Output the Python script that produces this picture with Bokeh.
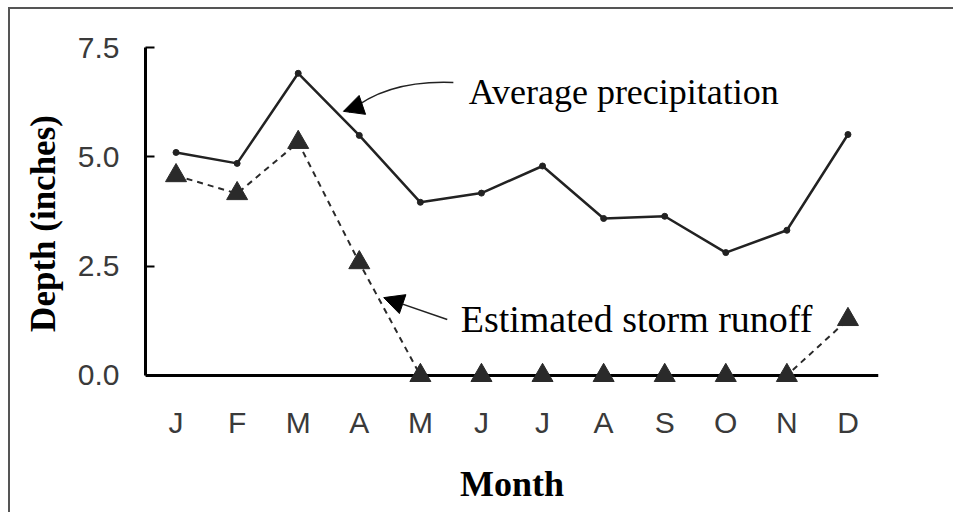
import numpy as np
from bokeh.plotting import figure
from bokeh.models import (Range1d, FixedTicker, Arrow, NormalHead, Span,
                          Label, NumeralTickFormatter, ColumnDataSource)
from bokeh.embed import file_html
from bokeh.resources import INLINE

# ---- data ----
months = ["Jan", "Feb", "Mar", "Apr", "May", "Jun",
          "Jul", "Aug", "Sep", "Oct", "Nov", "Dec"]
month_labels = ["J", "F", "M", "A", "M", "J", "J", "A", "S", "O", "N", "D"]
precip = [5.10, 4.85, 6.91, 5.49, 3.96, 4.17, 4.79, 3.59, 3.64, 2.81, 3.32, 5.51]
runoff = [4.57, 4.16, 5.33, 2.58, 0.0, 0.0, 0.0, 0.0, 0.0, 0.0, 0.0, 1.28]
y_ticks = [0.0, 2.5, 5.0, 7.5]

# category centres on a numeric axis (one unit per month)
xpos = [i + 0.5 for i in range(len(months))]
src = ColumnDataSource(dict(x=xpos, month=months, precip=precip, runoff=runoff))

# y range extends a little below zero so the zero-level triangles are not clipped;
# the visible x-axis line is a span at y = 0
p = figure(width=945, height=505, x_range=Range1d(0, len(months)),
           y_range=Range1d(-0.55, 7.5), output_backend="svg", toolbar_location=None,
           min_border_left=135, min_border_right=77, min_border_top=38,
           min_border_bottom=115)
p.styles = {"border-top": "2px solid #555555", "border-left": "2px solid #555555",
            "margin-left": "8px", "margin-top": "7px"}
p.outline_line_color = None
p.xgrid.grid_line_color = None
p.ygrid.grid_line_color = None
p.background_fill_color = "white"
p.border_fill_color = "white"

p.add_layout(Span(location=0, dimension="width", line_color="black", line_width=3))

# runoff
p.line("x", "runoff", source=src, line_color="#2a2a2a", line_width=2,
       line_dash="6 5")
p.scatter("x", "runoff", source=src, marker="triangle", size=21,
          fill_color="#2a2a2a", line_color="#2a2a2a", level="overlay")
# precipitation
p.line("x", "precip", source=src, line_color="#222222", line_width=2.5)
p.scatter("x", "precip", source=src, marker="circle", size=6,
          fill_color="#222222", line_color="#222222")

# axes
for ax in (p.xaxis[0], p.yaxis[0]):
    ax.axis_line_color = "black"
    ax.axis_line_width = 3
    ax.minor_tick_line_color = None
    ax.major_label_text_font = "Liberation Sans"
    ax.major_label_text_font_size = "30px"
    ax.major_label_text_color = "#3a3a3a"
    ax.axis_label_text_font = "Liberation Serif"
    ax.axis_label_text_font_style = "bold"
    ax.axis_label_text_color = "black"

p.yaxis.ticker = FixedTicker(ticks=y_ticks)
p.yaxis.formatter = NumeralTickFormatter(format="0.0")
p.yaxis.bounds = (0, 7.5)
p.yaxis.major_tick_in = 9
p.yaxis.major_tick_out = 0
p.yaxis.major_tick_line_width = 2
p.yaxis.major_label_standoff = 26
p.yaxis.axis_label = "Depth (inches)"
p.yaxis.axis_label_text_font_size = "35px"
p.yaxis.axis_label_standoff = 12

p.xaxis.axis_line_color = None
p.xaxis.ticker = FixedTicker(ticks=xpos)
p.xaxis.major_label_overrides = {x: lab for x, lab in zip(xpos, month_labels)}
p.xaxis.major_tick_line_color = None
p.xaxis.major_label_standoff = 0
p.xaxis.axis_label = "Month"
p.xaxis.axis_label_text_font_size = "36px"
p.xaxis.axis_label_standoff = 22

# annotations
p.quadratic(x0=5.04, y0=6.70, x1=3.33, y1=6.02, cx=3.95, cy=6.76,
            line_color="#222222", line_width=1.5)
p.add_layout(Arrow(end=NormalHead(size=20, fill_color="black", line_color="black"),
                   x_start=3.45, y_start=6.14, x_end=3.24, y_end=6.04,
                   line_alpha=0))
p.add_layout(Arrow(end=NormalHead(size=20, fill_color="black", line_color="black"),
                   x_start=4.94, y_start=1.28, x_end=3.90, y_end=1.78,
                   line_color="#222222", line_width=1.5))

p.add_layout(Label(x=5.29, y=6.49, text="Average precipitation",
                   text_font="Liberation Serif", text_font_size="36px",
                   text_color="black", text_baseline="alphabetic"))
p.add_layout(Label(x=5.16, y=1.30, text="Estimated storm runoff",
                   text_font="Liberation Serif", text_font_size="38px",
                   text_color="black", text_baseline="alphabetic"))

open("out.html", "w").write(file_html(p, INLINE))
